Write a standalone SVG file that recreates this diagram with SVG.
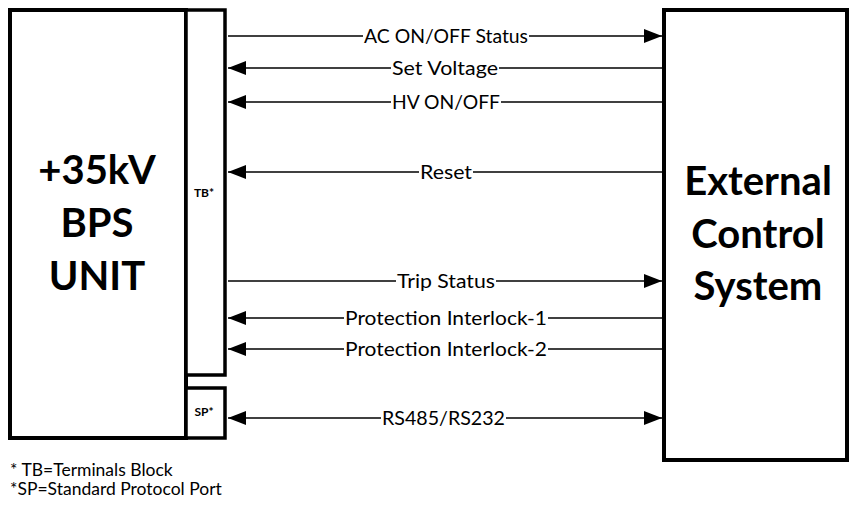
<svg xmlns="http://www.w3.org/2000/svg" width="850" height="508" viewBox="0 0 850 508">
<defs>
<marker id="ah" viewBox="0 0 18 14" refX="18" refY="7" markerWidth="18" markerHeight="14" markerUnits="userSpaceOnUse" orient="auto-start-reverse">
<path d="M0,0 L18,7 L0,14 Z" fill="#000"/>
</marker>
<style>
.box{fill:#fff;stroke:#000;stroke-width:4}
.sub{fill:#fff;stroke:#000;stroke-width:3.5}
.big{font-family:Lato,"Liberation Sans",sans-serif;font-weight:bold;font-size:40px;text-anchor:middle;fill:#000}
.tag{font-family:Lato,"Liberation Sans",sans-serif;font-weight:bold;font-size:12px;text-anchor:middle;fill:#000}
.ln{stroke:#000;stroke-width:1.6;fill:none}
.bg{fill:#fff}
.lbl{font-family:Lato,"Liberation Sans",sans-serif;font-size:19.5px;fill:#000}
.note{font-family:Lato,"Liberation Sans",sans-serif;font-size:17.5px;fill:#000}
</style>
</defs>
<rect width="850" height="508" fill="#fff"/>
<g id="bps">
<rect class="box" x="10" y="10" width="176" height="428"/>
<text class="big" x="97" y="184">+35kV</text>
<text class="big" x="97" y="237">BPS</text>
<text class="big" x="97" y="290">UNIT</text>
</g>
<g id="tb">
<rect class="sub" x="186" y="10" width="39" height="365"/>
<text class="tag" x="204" y="197">TB*</text>
</g>
<g id="sp">
<rect class="sub" x="186" y="388" width="39" height="50"/>
<text class="tag" x="204" y="416">SP*</text>
</g>
<g id="ext">
<rect class="box" x="664" y="10" width="183" height="450"/>
<text class="big" x="758" y="195">External</text>
<text class="big" x="758" y="248">Control</text>
<text class="big" x="758" y="300">System</text>
</g>
<g id="connectors">
<line class="ln" x1="228" y1="36" x2="662" y2="36" marker-end="url(#ah)"/>
<line class="ln" x1="662" y1="68" x2="228" y2="68" marker-end="url(#ah)"/>
<line class="ln" x1="662" y1="102" x2="228" y2="102" marker-end="url(#ah)"/>
<line class="ln" x1="662" y1="172" x2="228" y2="172" marker-end="url(#ah)"/>
<line class="ln" x1="228" y1="281" x2="662" y2="281" marker-end="url(#ah)"/>
<line class="ln" x1="662" y1="318" x2="228" y2="318" marker-end="url(#ah)"/>
<line class="ln" x1="662" y1="349" x2="228" y2="349" marker-end="url(#ah)"/>
<line class="ln" x1="228" y1="418" x2="662" y2="418" marker-start="url(#ah)" marker-end="url(#ah)"/>
<rect class="bg" x="363" y="28" width="166" height="16"/>
<rect class="bg" x="391" y="60" width="108" height="16"/>
<rect class="bg" x="391" y="94" width="110" height="16"/>
<rect class="bg" x="419" y="164" width="54" height="16"/>
<rect class="bg" x="396" y="273" width="100" height="16"/>
<rect class="bg" x="344" y="310" width="204" height="16"/>
<rect class="bg" x="344" y="341" width="204" height="16"/>
<rect class="bg" x="381" y="410" width="125" height="16"/>
<text class="lbl" x="364" y="43" textLength="164" lengthAdjust="spacingAndGlyphs">AC ON/OFF Status</text>
<text class="lbl" x="392" y="75" textLength="106" lengthAdjust="spacingAndGlyphs">Set Voltage</text>
<text class="lbl" x="392" y="109" textLength="108" lengthAdjust="spacingAndGlyphs">HV ON/OFF</text>
<text class="lbl" x="420" y="179" textLength="52" lengthAdjust="spacingAndGlyphs">Reset</text>
<text class="lbl" x="397" y="288" textLength="98" lengthAdjust="spacingAndGlyphs">Trip Status</text>
<text class="lbl" x="345" y="325" textLength="202" lengthAdjust="spacingAndGlyphs">Protection Interlock-1</text>
<text class="lbl" x="345" y="356" textLength="202" lengthAdjust="spacingAndGlyphs">Protection Interlock-2</text>
<text class="lbl" x="382" y="425" textLength="123" lengthAdjust="spacingAndGlyphs">RS485/RS232</text>
</g>
<g id="notes">
<text class="note" x="10" y="476">* TB=Terminals Block</text>
<text class="note" x="10" y="495">*SP=Standard Protocol Port</text>
</g>
</svg>
